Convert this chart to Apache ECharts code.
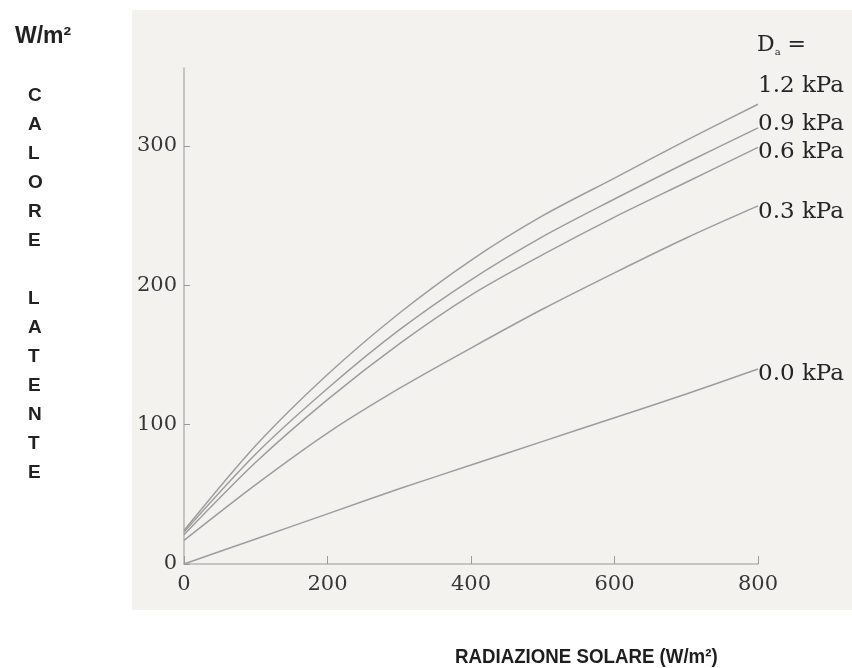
<!DOCTYPE html>
<html>
<head>
<meta charset="utf-8">
<script src="https://cdn.jsdelivr.net/npm/echarts@6/dist/echarts.min.js"></script>
<style>
  html, body { margin: 0; padding: 0; background: #ffffff; }
  #chart { width: 852px; height: 668px; }
</style>
</head>
<body>
<div id="chart"></div>
<script>
// Radiazione solare (W/m²) on the x axis
const radiation = [0, 100, 200, 300, 400, 500, 600, 700, 800];

// Calore latente (W/m²) for each vapour pressure deficit D_a
const seriesNames = ['1.2 kPa', '0.9 kPa', '0.6 kPa', '0.3 kPa', '0.0 kPa'];
const le12 = [24, 85, 136, 180, 218, 250, 277, 304, 330];
const le09 = [23, 79, 126, 168, 204, 235, 262, 288, 313];
const le06 = [21, 73, 118, 158, 193, 222, 249, 274, 299];
const le03 = [17, 57, 94, 126, 155, 183, 209, 234, 257];
const le00 = [0, 18, 36, 54, 71, 88, 105, 122, 140];
const seriesValues = [le12, le09, le06, le03, le00];

// vertical shift of each end label relative to its line end
const labelShift = [-18, -4, 5, 6, 5];

const xTicks = [0, 200, 400, 600, 800];
const yTicks = [0, 100, 200, 300];

const serif = '"DejaVu Serif", "Liberation Serif", serif';
const sans = '"Liberation Sans", Arial, sans-serif';

const chart = echarts.init(document.getElementById('chart'), null, { renderer: 'canvas' });

const series = seriesNames.map((name, i) => ({
  name: name,
  type: 'line',
  smooth: 0.3,
  symbol: 'none',
  data: radiation.map((x, k) => [x, seriesValues[i][k]]),
  lineStyle: { color: '#9d9d9d', width: 1.5 },
  endLabel: {
    show: true,
    formatter: '{a}',
    distance: 0,
    offset: [0, labelShift[i]],
    fontFamily: serif,
    fontSize: 23,
    color: '#262626'
  },
  emphasis: { disabled: true },
  silent: true
}));

chart.setOption({
  animation: false,
  backgroundColor: '#ffffff',
  graphic: [
    {
      type: 'rect',
      z: -10,
      shape: { x: 132, y: 10, width: 720, height: 600 },
      style: { fill: '#f4f2ef' }
    },
    {
      type: 'text',
      left: 455,
      top: 647,
      scaleX: 0.89,
      style: {
        text: 'RADIAZIONE SOLARE (W/m²)',
        font: 'bold 21px ' + sans,
        fill: '#1e1e1e'
      }
    }
  ],
  title: [
    {
      text: 'W/m²',
      left: 10,
      top: 20,
      textStyle: { fontFamily: sans, fontWeight: 'bold', fontSize: 23, color: '#222222' }
    },
    {
      text: 'C\nA\nL\nO\nR\nE\n\nL\nA\nT\nE\nN\nT\nE',
      left: 23,
      top: 76,
      textStyle: {
        fontFamily: sans, fontWeight: 'bold', fontSize: 19, color: '#222222',
        lineHeight: 29, align: 'center'
      }
    },
    {
      text: '{d|D}{s|a}{e| =}',
      left: 752,
      top: 28,
      textStyle: {
        fontWeight: 'normal',
        rich: {
          d: { fontFamily: serif, fontSize: 22, fontWeight: 'normal', color: '#262626' },
          s: { fontFamily: serif, fontSize: 10, fontWeight: 'normal', color: '#262626', padding: [14, 0, 0, 0] },
          e: { fontFamily: serif, fontSize: 22, fontWeight: 'normal', color: '#262626' }
        }
      }
    }
  ],
  grid: { left: 184, right: 94, top: 68, bottom: 104, containLabel: false },
  xAxis: {
    type: 'value',
    min: 0,
    max: 800,
    interval: 200,
    splitLine: { show: false },
    axisLine: { show: true, onZero: false, lineStyle: { color: '#b8b6b3', width: 1.5 } },
    axisTick: { show: true, inside: true, length: 8, lineStyle: { color: '#9a9a9a', width: 1 } },
    axisLabel: {
      customValues: xTicks,
      margin: 10,
      fontFamily: serif,
      fontSize: 21,
      color: '#363636'
    }
  },
  yAxis: {
    type: 'value',
    min: 0,
    max: 356,
    splitLine: { show: false },
    axisLine: { show: true, onZero: false, lineStyle: { color: '#b8b6b3', width: 1.5 } },
    axisTick: { show: true, inside: true, length: 6, customValues: yTicks, lineStyle: { color: '#9a9a9a', width: 1 } },
    axisLabel: {
      customValues: yTicks,
      margin: 7,
      fontFamily: serif,
      fontSize: 21,
      color: '#363636'
    }
  },
  series: series
});
</script>
</body>
</html>
